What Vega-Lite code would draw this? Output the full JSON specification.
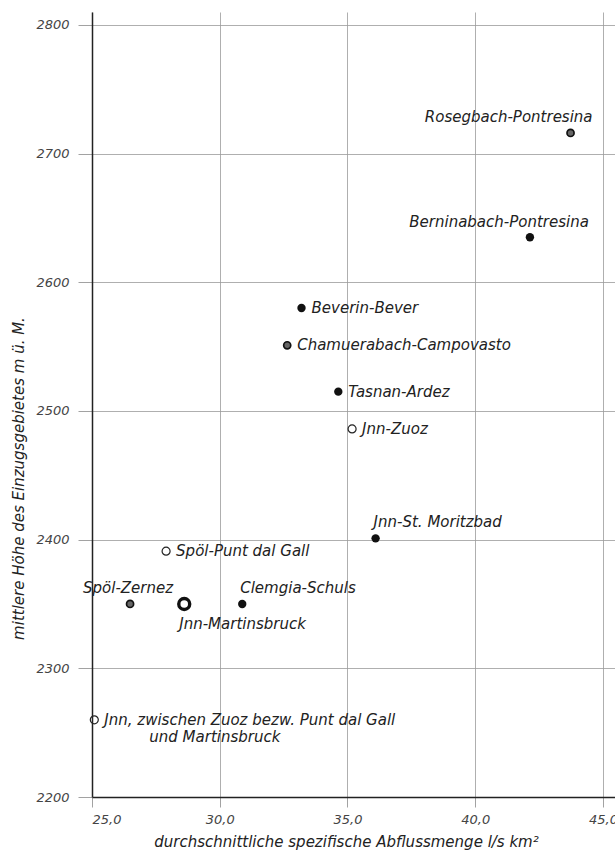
{
  "$schema": "https://vega.github.io/schema/vega-lite/v6.json",
  "width": 523,
  "height": 785,
  "autosize": "none",
  "padding": {"left": 92, "top": 12, "right": 0, "bottom": 54},
  "background": "white",
  "config": {
    "view": {"stroke": null},
    "font": "DejaVu Sans",
    "axis": {
      "labelFont": "DejaVu Sans",
      "labelFontStyle": "italic",
      "labelFontSize": 12.5,
      "labelColor": "#444",
      "titleFont": "DejaVu Sans",
      "titleFontStyle": "italic",
      "titleFontWeight": "normal",
      "titleFontSize": 15,
      "titleColor": "#222",
      "gridColor": "#9a9a9a",
      "gridWidth": 0.8,
      "tickColor": "#8a8a8a",
      "tickWidth": 0.8,
      "domainColor": "#222",
      "domainWidth": 1.5
    }
  },
  "data": {
    "values": [
      {"name": "Rosegbach-Pontresina", "q": 43.73, "h": 2716, "type": "shaded"},
      {"name": "Berninabach-Pontresina", "q": 42.14, "h": 2635, "type": "filled"},
      {"name": "Beverin-Bever", "q": 33.2, "h": 2580, "type": "filled"},
      {"name": "Chamuerabach-Campovasto", "q": 32.64, "h": 2551, "type": "shaded"},
      {"name": "Tasnan-Ardez", "q": 34.64, "h": 2515, "type": "filled"},
      {"name": "Jnn-Zuoz", "q": 35.18, "h": 2486, "type": "open"},
      {"name": "Jnn-St. Moritzbad", "q": 36.1, "h": 2401, "type": "filled"},
      {"name": "Spöl-Punt dal Gall", "q": 27.9, "h": 2391, "type": "open"},
      {"name": "Spöl-Zernez", "q": 26.49, "h": 2350, "type": "shaded"},
      {"name": "Jnn-Martinsbruck", "q": 28.61, "h": 2350, "type": "main"},
      {"name": "Clemgia-Schuls", "q": 30.88, "h": 2350, "type": "filled"},
      {"name": "Jnn, zwischen Zuoz bezw. Punt dal Gall", "line2": "und Martinsbruck", "q": 25.09, "h": 2260, "type": "open"}
    ]
  },
  "encoding": {
    "x": {
      "field": "q", "type": "quantitative",
      "scale": {"domain": [25, 45.47], "nice": false, "zero": false},
      "axis": {
        "values": [25, 30, 35, 40, 45],
        "labelExpr": "replace(format(datum.value, '.1f'), '.', ',')",
        "tickSize": 10,
        "labelPadding": 6,
        "labelFontSize": 13,
        "title": "durchschnittliche spezifische Abflussmenge l/s km²",
        "titleX": 254,
        "titleY": 44,
        "titleAlign": "center",
        "titleBaseline": "middle"
      }
    },
    "y": {
      "field": "h", "type": "quantitative",
      "scale": {"domain": [2200, 2810], "nice": false, "zero": false},
      "axis": {
        "values": [2200, 2300, 2400, 2500, 2600, 2700, 2800],
        "format": "d",
        "tickSize": 14,
        "labelPadding": 9,
        "labelFontSize": 13,
        "title": "mittlere Höhe des Einzugsgebietes m ü. M.",
        "titleAngle": 270,
        "titleX": -74,
        "titleY": 466,
        "titleAlign": "center",
        "titleBaseline": "middle"
      }
    }
  },
  "layer": [
    {
      "transform": [{"filter": {"field": "type", "equal": "filled"}}],
      "mark": {"type": "point", "shape": "circle", "filled": true, "fill": "#111", "stroke": null, "size": 70, "opacity": 1}
    },
    {
      "transform": [{"filter": {"field": "type", "equal": "shaded"}}],
      "mark": {"type": "point", "shape": "circle", "filled": true, "fill": "#666", "stroke": "#111", "strokeWidth": 1.7, "size": 50, "opacity": 1}
    },
    {
      "transform": [{"filter": {"field": "type", "equal": "open"}}],
      "mark": {"type": "point", "shape": "circle", "filled": false, "stroke": "#222", "strokeWidth": 1.2, "size": 64, "opacity": 1}
    },
    {
      "transform": [{"filter": {"field": "type", "equal": "main"}}],
      "mark": {"type": "point", "shape": "circle", "filled": false, "stroke": "#111", "strokeWidth": 3.4, "size": 120, "opacity": 1}
    },
    {
      "transform": [{"filter": {"field": "name", "oneOf": ["Beverin-Bever", "Chamuerabach-Campovasto", "Tasnan-Ardez", "Jnn-Zuoz", "Spöl-Punt dal Gall", "Jnn, zwischen Zuoz bezw. Punt dal Gall"]}}],
      "mark": {"type": "text", "align": "left", "baseline": "middle", "dx": 10, "font": "DejaVu Sans", "fontStyle": "italic", "fontSize": 15, "fill": "#222"},
      "encoding": {"text": {"field": "name"}}
    },
    {
      "transform": [{"filter": {"field": "name", "equal": "Rosegbach-Pontresina"}}],
      "mark": {"type": "text", "align": "right", "baseline": "middle", "dx": 22, "dy": -16, "font": "DejaVu Sans", "fontStyle": "italic", "fontSize": 15, "fill": "#222"},
      "encoding": {"text": {"field": "name"}}
    },
    {
      "transform": [{"filter": {"field": "name", "equal": "Berninabach-Pontresina"}}],
      "mark": {"type": "text", "align": "right", "baseline": "middle", "dx": 59, "dy": -15, "font": "DejaVu Sans", "fontStyle": "italic", "fontSize": 15, "fill": "#222"},
      "encoding": {"text": {"field": "name"}}
    },
    {
      "transform": [{"filter": {"field": "name", "oneOf": ["Jnn-St. Moritzbad", "Clemgia-Schuls"]}}],
      "mark": {"type": "text", "align": "left", "baseline": "middle", "dx": -2, "dy": -16, "font": "DejaVu Sans", "fontStyle": "italic", "fontSize": 15, "fill": "#222"},
      "encoding": {"text": {"field": "name"}}
    },
    {
      "transform": [{"filter": {"field": "name", "equal": "Spöl-Zernez"}}],
      "mark": {"type": "text", "align": "center", "baseline": "middle", "dx": -2, "dy": -16, "font": "DejaVu Sans", "fontStyle": "italic", "fontSize": 15, "fill": "#222"},
      "encoding": {"text": {"field": "name"}}
    },
    {
      "transform": [{"filter": {"field": "name", "equal": "Jnn-Martinsbruck"}}],
      "mark": {"type": "text", "align": "left", "baseline": "middle", "dx": -5, "dy": 20, "font": "DejaVu Sans", "fontStyle": "italic", "fontSize": 15, "fill": "#222"},
      "encoding": {"text": {"field": "name"}}
    },
    {
      "transform": [{"filter": "isValid(datum.line2)"}],
      "mark": {"type": "text", "align": "left", "baseline": "middle", "dx": 55, "dy": 17, "font": "DejaVu Sans", "fontStyle": "italic", "fontSize": 15, "fill": "#222"},
      "encoding": {"text": {"field": "line2"}}
    }
  ]
}
